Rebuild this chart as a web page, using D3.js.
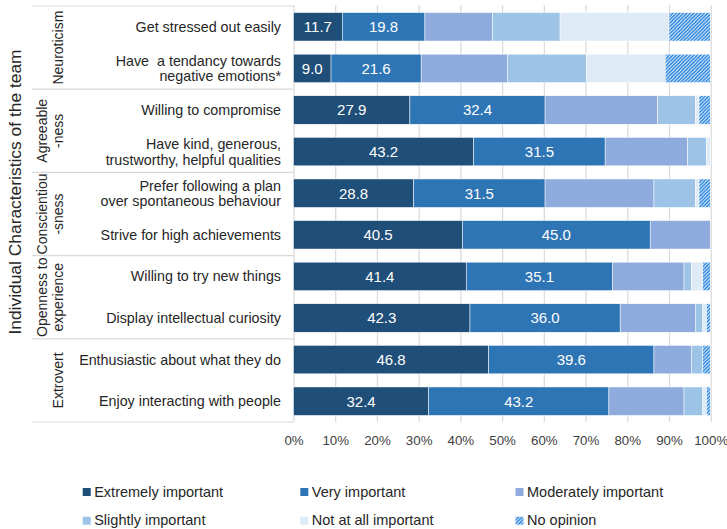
<!DOCTYPE html>
<html>
<head>
<meta charset="utf-8">
<script src="https://cdn.jsdelivr.net/npm/d3@7"></script>
<style>
  html, body { margin: 0; padding: 0; background: #fff; }
  svg { display: block; font-family: "Liberation Sans", Arial, sans-serif; }
</style>
</head>
<body>
<div class="container"></div>
<script>
// categories (top to bottom), "\n" marks a line break
const categories = [
  "Get stressed out easily",
  "Have  a tendancy towards\nnegative emotions*",
  "Willing to compromise",
  "Have kind, generous,\ntrustworthy, helpful qualities",
  "Prefer following a plan\nover spontaneous behaviour",
  "Strive for high achievements",
  "Willing to try new things",
  "Display intellectual curiosity",
  "Enthusiastic about what they do",
  "Enjoy interacting with people"
];
// trait groups, two rows each
const groups = ["Neuroticism", "Agreeable\n-ness", "Conscientiou\n-sness", "Openness to\nexperience", "Extrovert"];

// series values (%)
const extremely  = [11.7, 9.0, 27.9, 43.2, 28.8, 40.5, 41.4, 42.3, 46.8, 32.4];
const very       = [19.8, 21.6, 32.4, 31.5, 31.5, 45.0, 35.1, 36.0, 39.6, 43.2];
const moderately = [16.2, 20.7, 27.0, 19.8, 26.1, 14.4, 17.1, 18.0, 9.0, 18.0];
const slightly   = [16.2, 18.9, 9.0, 4.5, 9.9, 0, 1.8, 1.8, 2.7, 4.5];
const notAtAll   = [26.1, 18.9, 0.9, 0.9, 0.9, 0, 2.7, 0.9, 0, 0.9];
const noOpinion  = [9.9, 10.8, 2.7, 0, 2.7, 0, 1.8, 0.9, 1.8, 0.9];

const seriesNames = ["Extremely important", "Very important", "Moderately important",
  "Slightly important", "Not at all important", "No opinion"];
const tickValues = [0, 10, 20, 30, 40, 50, 60, 70, 80, 90, 100];

const width = 727;
const height = 529;
const colors = ["#1f4e79", "#2e75b6", "#8faadc", "#9dc3e6", "#deebf7", "url(#hatch)"];

// scales
const x = d3.scaleLinear().domain([0, 100]).range([293.5, 710.7]);
const y = d3.scaleBand().domain(categories).range([6, 422]).paddingInner(0.316).paddingOuter(0.158);

const svg = d3.select("div.container").append("svg")
  .attr("width", width).attr("height", height);

// hatch pattern for "No opinion"
const pat = svg.append("defs").append("pattern")
  .attr("id", "hatch").attr("patternUnits", "userSpaceOnUse")
  .attr("width", 3.5).attr("height", 3.5);
pat.append("rect").attr("width", 3.5).attr("height", 3.5).attr("fill", "#fff");
pat.append("path").attr("d", "M-1,1 l2,-2 M0,3.5 l3.5,-3.5 M2.5,4.5 l2,-2")
  .attr("stroke", "#1f7fdc").attr("stroke-width", 1.5);

// gridlines
const grid = svg.append("g").attr("transform", "translate(0,422)")
  .call(d3.axisBottom(x).tickValues(tickValues).tickSize(-417).tickFormat(""));
grid.select(".domain").remove();
grid.selectAll("line").attr("stroke", "#d9d9d9").attr("stroke-width", 1.2);

// table lines for the group column
const step = y.step();
svg.append("g").selectAll("line").data(d3.range(groups.length + 1)).enter().append("line")
  .attr("x1", 32).attr("x2", x(0))
  .attr("y1", (d) => 6 + d * 2 * step).attr("y2", (d) => 6 + d * 2 * step)
  .attr("stroke", "#d9d9d9").attr("stroke-width", 1.2);

// stack
const table = categories.map((c, i) => ({
  cat: c, s0: extremely[i], s1: very[i], s2: moderately[i], s3: slightly[i], s4: notAtAll[i], s5: noOpinion[i]
}));
const stack = d3.stack().keys(["s0", "s1", "s2", "s3", "s4", "s5"])(table);

const layers = svg.append("g").selectAll("g").data(stack).enter().append("g")
  .attr("fill", (d, i) => colors[i]);
layers.selectAll("rect").data((d) => d).enter().append("rect")
  .attr("x", (d) => x(d[0]))
  .attr("y", (d) => y(d.data.cat))
  .attr("width", (d) => x(d[1]) - x(d[0]))
  .attr("height", y.bandwidth())
  .attr("stroke", "#fff").attr("stroke-width", 0.5);

// value labels on the two darkest series
stack.slice(0, 2).forEach((layer) => {
  svg.append("g").selectAll("text").data(layer).enter().append("text")
    .attr("x", (d) => (x(d[0]) + x(d[1])) / 2)
    .attr("y", (d) => y(d.data.cat) + y.bandwidth() / 2 + 5.3)
    .attr("text-anchor", "middle").attr("fill", "#fff").attr("font-size", "15px")
    .text((d) => (d[1] - d[0]).toFixed(1));
});

// x axis labels
const xAxis = svg.append("g").attr("transform", "translate(0,422)")
  .call(d3.axisBottom(x).tickValues(tickValues).tickSize(0).tickPadding(13.5).tickFormat((d) => d + "%"));
xAxis.select(".domain").remove();
xAxis.selectAll("text").attr("font-size", "13.3px").attr("fill", "#404040")
  .attr("font-family", "Liberation Sans, Arial, sans-serif");

// category labels
const catLabels = svg.append("g").selectAll("text").data(categories).enter().append("text")
  .attr("text-anchor", "end").attr("font-size", "14.3px").attr("fill", "#262626")
  .style("white-space", "pre");
catLabels.each(function (d) {
  const lines = d.split("\n");
  const c = y(d) + y.bandwidth() / 2;
  const t = d3.select(this);
  lines.forEach((ln, k) => {
    const by = lines.length === 1 ? c + 5 : c - 2.6 + k * 15.5;
    t.append("tspan").attr("x", 281).attr("y", by).text(ln);
  });
});

// group labels (rotated)
svg.append("g").selectAll("text").data(groups).enter().append("text")
  .attr("font-size", "14px").attr("fill", "#262626").attr("text-anchor", "middle")
  .each(function (d, i) {
    const cy = 6 + (i * 2 + 1) * step;
    const lines = d.split("\n");
    const t = d3.select(this).attr("transform", `translate(0,${cy}) rotate(-90)`);
    lines.forEach((ln, k) => {
      const bx = 62.8 - (lines.length - 1 - k) * 15.5;
      t.append("tspan").attr("x", 0).attr("y", bx).text(ln);
    });
  });

// axis title
svg.append("text")
  .attr("transform", "translate(20.5,192) rotate(-90)")
  .attr("text-anchor", "middle").attr("font-size", "17.4px").attr("fill", "#262626")
  .text("Individual Characteristics of the team");

// legend
const legendX = [82.7, 300.3, 515.5];
const legendY = [488, 516.7];
const legend = svg.append("g").selectAll("g").data(seriesNames).enter().append("g")
  .attr("transform", (d, i) => `translate(${legendX[i % 3]},${legendY[Math.floor(i / 3)]})`);
legend.append("rect").attr("width", 8).attr("height", 8).attr("fill", (d, i) => colors[i]);
legend.append("text").attr("x", 11.5).attr("y", 8.7)
  .attr("font-size", "14.5px").attr("fill", "#262626").text((d) => d);
</script>
</body>
</html>
